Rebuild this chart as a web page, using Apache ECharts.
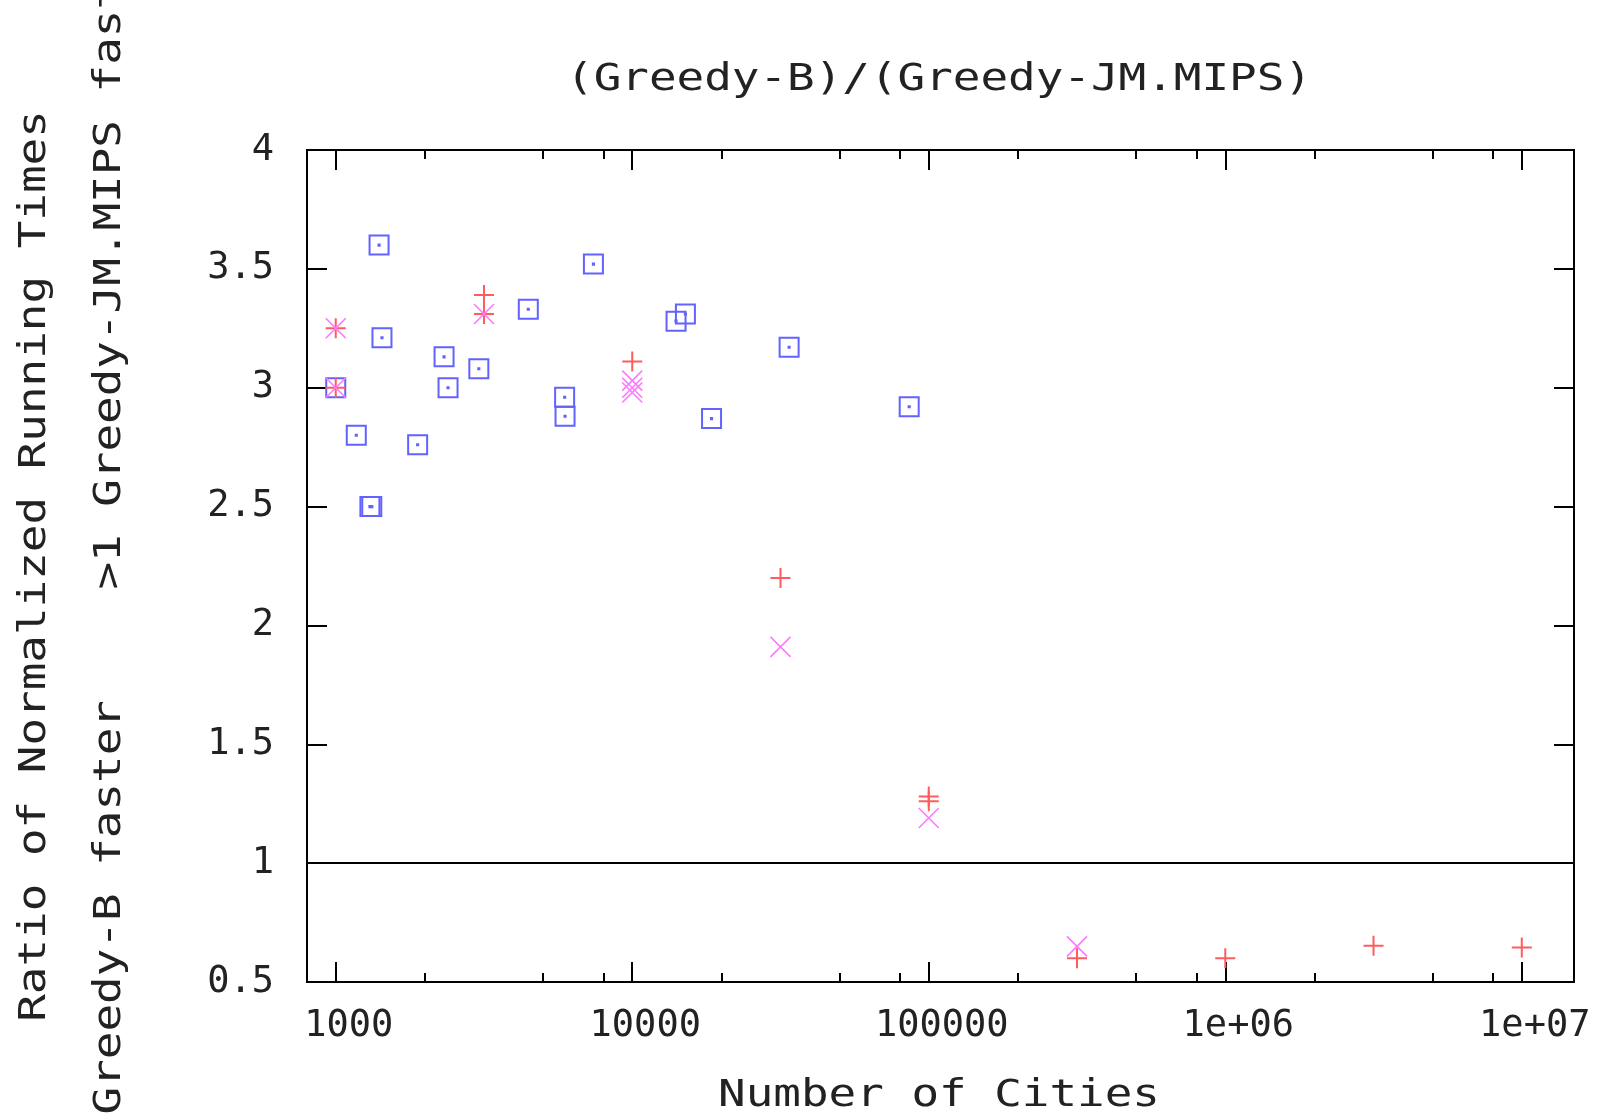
<!DOCTYPE html>
<html>
<head>
<meta charset="utf-8">
<script src="https://cdn.jsdelivr.net/npm/echarts@6/dist/echarts.min.js"></script>
<style>
html,body{margin:0;padding:0;background:#fff;}
#chart{width:1604px;height:1114px;}
</style>
</head>
<body>
<div id="chart"></div>
<script>
// ---- data ----
const titleText = '(Greedy-B)/(Greedy-JM.MIPS)';
const xAxisName = 'Number of Cities';
const yAxisName1 = 'Ratio of Normalized Running Times';
const yAxisName2 = '<1 Greedy-B faster    >1 Greedy-JM.MIPS faster';

const xMajorTicks = [1000, 10000, 100000, 1000000, 10000000];
const xTickLabels = ['1000', '10000', '100000', '1e+06', '1e+07'];
const xMinorTicks = [2000, 5000, 8000, 20000, 50000, 80000, 200000, 500000, 800000,
                     2000000, 5000000, 8000000];
const yTickLabels = ['0.5', '1', '1.5', '2', '2.5', '3', '3.5', '4'];
const refLineValue = 1;

// TSPLIB instances (blue squares)
const tsplibN     = [1000, 1173, 1304, 1323, 1400, 1432, 1889, 2319, 2392, 3038, 4461, 5915, 5934, 7397, 14051, 15112, 18512, 33810, 85900];
const tsplibRatio = [3.00, 2.80, 2.50, 2.50, 3.60, 3.21, 2.76, 3.13, 3.00, 3.08, 3.33, 2.96, 2.88, 3.52, 3.28, 3.31, 2.87, 3.17, 2.92];

// uniform instances (red +)
const uniformN     = [1000, 1000, 3162, 3162, 10000, 31623, 100000, 100000, 316228, 1000000, 3162278, 10000000];
const uniformRatio = [3.25, 3.00, 3.39, 3.31, 3.11, 2.20, 1.28, 1.26, 0.60, 0.60, 0.653, 0.645];

// clustered instances (magenta x)
const clusteredN     = [1000, 1000, 3162, 10000, 10000, 10000, 31623, 100000, 316228];
const clusteredRatio = [3.25, 3.00, 3.31, 3.03, 3.00, 2.98, 1.91, 1.19, 0.65];

// ---- chart ----
const FONT = '"DejaVu Sans Mono", "Liberation Mono", monospace';
const zip = (a, b) => a.map((v, i) => [v, b[i]]);
const chart = echarts.init(document.getElementById('chart'), null, {renderer: 'canvas'});

const xBase = {
  type: 'log', logBase: 10, min: 800, max: 15000000, gridIndex: 0,
  splitLine: {show: false}, axisLine: {show: false}
};
const majorLabel = v => xTickLabels[Math.round(Math.log10(v)) - 3];

const option = {
  backgroundColor: '#ffffff',
  animation: false,
  grid: {left: 307, right: 30, top: 150, bottom: 132, show: true,
         borderColor: '#000', borderWidth: 2, backgroundColor: 'transparent'},
  xAxis: [
    Object.assign({}, xBase, {
      position: 'bottom',
      axisTick: {show: true, inside: true, length: 20, customValues: xMajorTicks,
                 lineStyle: {color: '#000', width: 2}},
      axisLabel: {show: true, customValues: xMajorTicks, formatter: majorLabel,
                  fontFamily: FONT, fontSize: 37, color: '#222', margin: 26,
                  padding: [0, 0, 0, 26]}
    }),
    Object.assign({}, xBase, {
      position: 'bottom',
      axisTick: {show: true, inside: true, length: 9, customValues: xMinorTicks,
                 lineStyle: {color: '#000', width: 2}},
      axisLabel: {show: false}
    }),
    Object.assign({}, xBase, {
      position: 'top',
      axisTick: {show: true, inside: true, length: 20, customValues: xMajorTicks,
                 lineStyle: {color: '#000', width: 2}},
      axisLabel: {show: false}
    }),
    Object.assign({}, xBase, {
      position: 'top',
      axisTick: {show: true, inside: true, length: 9, customValues: xMinorTicks,
                 lineStyle: {color: '#000', width: 2}},
      axisLabel: {show: false}
    })
  ],
  yAxis: [
    {
      type: 'value', min: 0.5, max: 4, interval: 0.5, position: 'left',
      splitLine: {show: false}, axisLine: {show: false},
      axisTick: {show: true, inside: true, length: 20, lineStyle: {color: '#000', width: 2}},
      axisLabel: {formatter: v => yTickLabels[Math.round((v - 0.5) / 0.5)],
                  fontFamily: FONT, fontSize: 37, color: '#222', margin: 33}
    },
    {
      type: 'value', min: 0.5, max: 4, interval: 0.5, position: 'right',
      splitLine: {show: false}, axisLine: {show: false},
      axisTick: {show: true, inside: true, length: 20, lineStyle: {color: '#000', width: 2}},
      axisLabel: {show: false}
    }
  ],
  series: [
    {
      type: 'scatter', name: 'TSPLIB', xAxisIndex: 0, yAxisIndex: 0,
      data: zip(tsplibN, tsplibRatio),
      symbol: 'path://M0,0L20,0L20,20L0,20ZM9.4,9.4L10.6,9.4L10.6,10.6L9.4,10.6Z',
      symbolSize: 19,
      itemStyle: {color: 'rgba(0,0,0,0)', borderColor: '#6262ff', borderWidth: 2, opacity: 1},
      markLine: {
        silent: true, symbol: 'none', label: {show: false},
        lineStyle: {color: '#000', width: 2, type: 'solid'},
        data: [{yAxis: refLineValue}]
      }
    },
    {
      type: 'scatter', name: 'Uniform', xAxisIndex: 0, yAxisIndex: 0,
      data: zip(uniformN, uniformRatio),
      symbol: 'path://M0,10L20,10M10,0L10,20',
      symbolSize: 20,
      itemStyle: {color: 'rgba(0,0,0,0)', borderColor: '#ff5c5c', borderWidth: 2, opacity: 1}
    },
    {
      type: 'scatter', name: 'Clustered', xAxisIndex: 0, yAxisIndex: 0,
      data: zip(clusteredN, clusteredRatio),
      symbol: 'path://M0,0L20,20M20,0L0,20',
      symbolSize: 20,
      itemStyle: {color: 'rgba(0,0,0,0)', borderColor: '#ff78ff', borderWidth: 1.6, opacity: 1}
    }
  ],
  graphic: [
    {type: 'text', x: 939, y: 80, scaleX: 1.24, silent: true,
     style: {text: titleText, font: '37px ' + FONT, fill: '#222', align: 'center', verticalAlign: 'middle'}},
    {type: 'text', x: 939, y: 1096, scaleX: 1.24, silent: true,
     style: {text: xAxisName, font: '37px ' + FONT, fill: '#222', align: 'center', verticalAlign: 'middle'}},
    {type: 'text', x: 35, y: 566, rotation: Math.PI / 2, scaleX: 1.24, silent: true,
     style: {text: yAxisName1, font: '37px ' + FONT, fill: '#222', align: 'center', verticalAlign: 'middle'}},
    {type: 'text', x: 110, y: 562, rotation: Math.PI / 2, scaleX: 1.24, silent: true,
     style: {text: yAxisName2, font: '37px ' + FONT, fill: '#222', align: 'center', verticalAlign: 'middle'}}
  ]
};
chart.setOption(option);
</script>
</body>
</html>
